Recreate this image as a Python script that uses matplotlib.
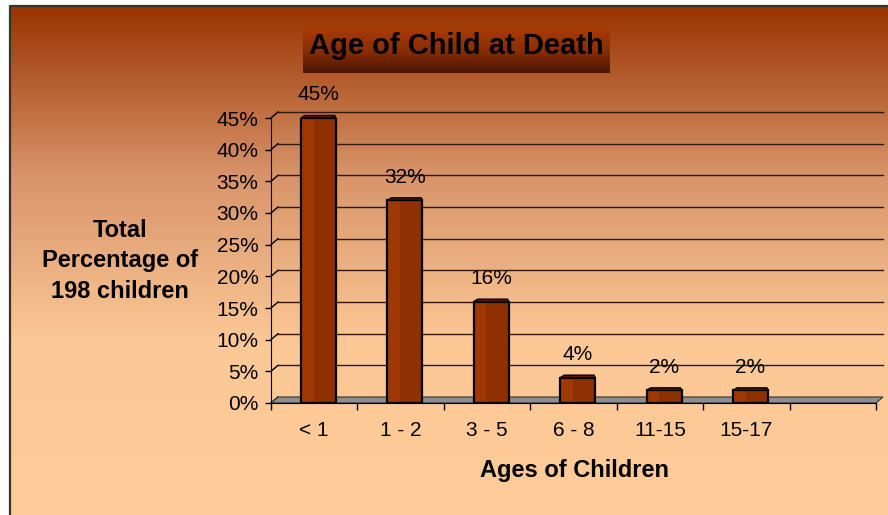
import numpy as np
import matplotlib.pyplot as plt
from matplotlib.colors import LinearSegmentedColormap
from matplotlib.patches import Polygon

plt.rcParams['font.family'] = ['Liberation Sans', 'DejaVu Sans']

# data
ages = ['< 1', '1 - 2', '3 - 5', '6 - 8', '11-15', '15-17', '']
percent = [45, 32, 16, 4, 2, 2]
yticks = [0, 5, 10, 15, 20, 25, 30, 35, 40, 45]
ylabels = ['%d%%' % t for t in yticks]

W, H = 888, 515
fig = plt.figure(figsize=(W / 100, H / 100), dpi=100)

# background panel with vertical gradient
bg = fig.add_axes([0, 0, 1, 1], zorder=-10)
bg.axis('off')
grad = np.linspace(0, 1, 256)[:, None]
bg_cmap = LinearSegmentedColormap.from_list('bg', ['#993300', '#D8946A', '#FCC996', '#FFCC99'], N=256)
bg.imshow(grad, cmap=bg_cmap, extent=(10, W, H, 6), aspect='auto')
bg.plot([10, 10, W], [H, 6, 6], color='#333333', lw=1.6)

# title box
title_cmap = LinearSegmentedColormap.from_list('tt', ['#A93C06', '#8A2E04', '#4A1501'])
bg.imshow(grad, cmap=title_cmap, extent=(303, 609, 73, 27), aspect='auto')
bg.text(456, 46, 'Age of Child at Death', ha='center', va='center',
        fontsize=21, fontweight='bold', color='black')
bg.set_xlim(0, W)
bg.set_ylim(H, 0)

# axis labels
bg.text(120, 261, 'Total\nPercentage of\n198 children', ha='center', va='center',
        fontsize=17, fontweight='bold', linespacing=1.4)
bg.text(574, 470, 'Ages of Children', ha='center', va='center',
        fontsize=17, fontweight='bold')

# main chart
left, bottom, right, top = 271, 403, 876, 118
ax = fig.add_axes([left / W, 1 - bottom / H, (right - left) / W, (bottom - top) / H])
ax.patch.set_visible(False)
ax.set_xlim(-0.5, 6.5)
ax.set_ylim(0, 45)

# 3d depth in data units
px_x = (right - left) / 7.0
px_y = (bottom - top) / 45.0
dx = 7 / px_x
dy = 6 / px_y

# back wall gridlines and the small diagonals
for t in yticks:
    if t > 0:
        ax.plot([-0.5 + dx, 6.5 + dx], [t + dy, t + dy], color='#2a1a10', lw=1, zorder=1, clip_on=False)
    ax.plot([-0.5, -0.5 + dx], [t, t + dy], color='black', lw=1, zorder=1, clip_on=False)

# floor
floor = Polygon([(-0.5, 0), (6.5, 0), (6.5 + dx, dy), (-0.5 + dx, dy)], closed=True,
                facecolor='#8E8E8E', edgecolor='#333333', lw=0.8, zorder=2, clip_on=False)
ax.add_patch(floor)

# bars
bw = 0.405
shift = dx * 0.6
xs = np.arange(len(percent)) + shift
ax.bar(xs, percent, width=bw, color='#A03804', lw=0, zorder=3)
ax.bar(xs + bw * 0.18, percent, width=bw * 0.64, color='#8E3002', lw=0, zorder=3)
ax.bar(xs, percent, width=bw, facecolor='none', edgecolor='black', lw=1.6, zorder=4)
cx, cy = 4 / px_x, 2.5 / px_y
for x, v in zip(xs, percent):
    x0, x1 = x - bw / 2, x + bw / 2
    cap = Polygon([(x0, v), (x1, v), (x1 - 0.3 * cx, v + cy), (x0 + cx, v + cy)], closed=True,
                  facecolor='#5A1C00', edgecolor='black', lw=1, zorder=5, clip_on=False)
    ax.add_patch(cap)
    ax.annotate('%d%%' % v, (x, v), xytext=(0, 23), textcoords='offset pixels',
                ha='center', va='center', fontsize=15, zorder=6)

# spines and ticks
for s in ['top', 'right']:
    ax.spines[s].set_visible(False)
ax.spines['left'].set_zorder(6)
ax.spines['bottom'].set_zorder(6)
ax.set_yticks(yticks, ylabels)
ax.tick_params(axis='y', direction='out', length=4, width=1, pad=5, labelsize=15)
ax.set_xticks(range(len(ages)), ages)
ax.tick_params(axis='x', which='major', length=0, pad=13, labelsize=15)
ax.set_xticks(np.arange(-0.5, 7, 1), minor=True)
ax.tick_params(axis='x', which='minor', direction='out', length=5, width=1)

fig.savefig('out.png', dpi=100)
